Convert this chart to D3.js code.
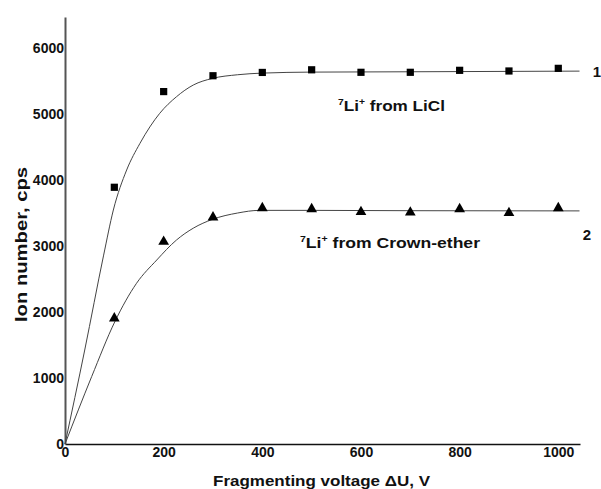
<!DOCTYPE html>
<html>
<head>
<meta charset="utf-8">
<script src="https://cdn.jsdelivr.net/npm/d3@7"></script>
<style>
  html, body { margin: 0; padding: 0; background: #fff; }
  svg { display: block; }
  text { font-family: Arial, "Liberation Sans", sans-serif; fill: #111; }
</style>
</head>
<body>
<svg id="chart" width="601" height="489"></svg>
<script>
// Measured points: fragmenting voltage (V) vs. ion count (cps)
const voltage = [100, 200, 300, 400, 500, 600, 700, 800, 900, 1000];
const liclIons = [3890, 5340, 5580, 5630, 5670, 5632, 5632, 5662, 5652, 5692];
const crownIons = [1905, 3065, 3435, 3575, 3560, 3515, 3510, 3560, 3500, 3575];

// Fitted curves, sampled along voltage
const liclFitV = [0, 40, 78, 98, 125, 152, 192, 226, 260, 299, 350, 400, 500, 700, 1043];
const liclFitN = [0, 1424, 2850, 3545, 4152, 4556, 5010, 5262, 5439, 5540, 5595, 5620, 5635, 5640, 5650];
const crownFitV = [0, 54, 101, 145, 186, 226, 260, 299, 350, 394, 500, 700, 1043];
const crownFitN = [0, 1020, 1853, 2435, 2788, 3091, 3270, 3404, 3500, 3540, 3540, 3535, 3532];

const xTicks = [0, 200, 400, 600, 800, 1000];
const yTicks = [0, 1000, 2000, 3000, 4000, 5000, 6000];

const svg = d3.select("#chart");
const x = d3.scaleLinear().domain([0, 1044]).range([65, 580]);
const y = d3.scaleLinear().domain([0, 6470]).range([444, 17]);

// Axes
const xAxis = svg.append("g").attr("transform", `translate(0,${y(0)})`)
  .call(d3.axisBottom(x).tickValues(xTicks).tickSize(0).tickPadding(3).tickFormat(d3.format("d")));
xAxis.select(".domain").attr("stroke", "#111").attr("stroke-width", 1.4);
xAxis.selectAll("text").attr("font-size", 14).attr("font-weight", "bold")
  .attr("fill", "#111").attr("font-family", "Arial, 'Liberation Sans', sans-serif");

const yAxis = svg.append("g").attr("transform", `translate(${x(0)},0)`)
  .call(d3.axisLeft(y).tickValues(yTicks).tickSize(0).tickPadding(1).tickFormat(d3.format("d")));
yAxis.select(".domain").attr("stroke", "#555").attr("stroke-width", 2);
yAxis.selectAll("text").attr("font-size", 14).attr("font-weight", "bold")
  .attr("fill", "#111").attr("font-family", "Arial, 'Liberation Sans', sans-serif");

// Fitted curves
const line = d3.line().x(d => x(d[0])).y(d => y(d[1])).curve(d3.curveMonotoneX);
svg.append("path").datum(d3.zip(liclFitV, liclFitN)).attr("d", line)
  .attr("fill", "none").attr("stroke", "#444").attr("stroke-width", 1);
svg.append("path").datum(d3.zip(crownFitV, crownFitN)).attr("d", line)
  .attr("fill", "none").attr("stroke", "#444").attr("stroke-width", 1);

// Markers
const sq = d3.symbol().type(d3.symbolSquare).size(52);
const tri = d3.symbol().type(d3.symbolTriangle).size(50);
svg.append("g").selectAll("path").data(d3.zip(voltage, liclIons)).join("path")
  .attr("d", sq).attr("transform", d => `translate(${x(d[0])},${y(d[1])})`).attr("fill", "#000");
svg.append("g").selectAll("path").data(d3.zip(voltage, crownIons)).join("path")
  .attr("d", tri).attr("transform", d => `translate(${x(d[0])},${y(d[1])})`).attr("fill", "#000");

// Curve labels
function isotopeLabel(px, py, rest, width) {
  const t = svg.append("text").attr("x", px).attr("y", py)
    .attr("font-size", 15).attr("font-weight", "bold")
    .attr("textLength", width).attr("lengthAdjust", "spacingAndGlyphs");
  t.append("tspan").attr("font-size", 9).attr("dy", -6).text("7");
  t.append("tspan").attr("dy", 6).text("Li");
  t.append("tspan").attr("font-size", 9).attr("dy", -6).text("+");
  t.append("tspan").attr("dy", 6).text(" " + rest);
}
isotopeLabel(338, 111, "from LiCl", 107);
isotopeLabel(300, 248, "from Crown-ether", 180);

svg.append("text").attr("x", 597).attr("y", 77).attr("text-anchor", "middle")
  .attr("font-size", 15).attr("font-weight", "bold").text("1");
svg.append("text").attr("x", 587).attr("y", 240).attr("text-anchor", "middle")
  .attr("font-size", 15).attr("font-weight", "bold").text("2");

// Axis titles
svg.append("text").attr("x", 213).attr("y", 486)
  .attr("font-size", 15).attr("font-weight", "bold")
  .attr("textLength", 217).attr("lengthAdjust", "spacingAndGlyphs")
  .text("Fragmenting voltage \u0394U, V");
svg.append("text").attr("transform", "translate(27,322) rotate(-90)")
  .attr("font-size", 16).attr("font-weight", "bold")
  .attr("textLength", 155).attr("lengthAdjust", "spacingAndGlyphs")
  .text("Ion number, cps");
</script>
</body>
</html>
